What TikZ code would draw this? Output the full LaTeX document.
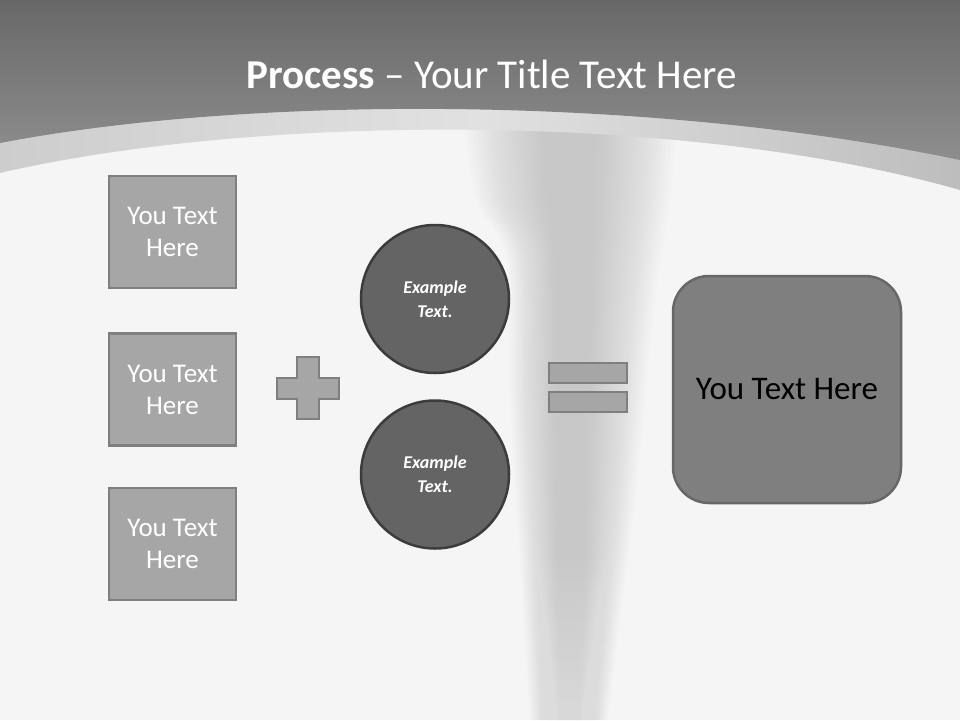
\documentclass[tikz,border=0pt]{standalone}
\usepackage{fontspec}
\setmainfont{Carlito}
\definecolor{bgc}{HTML}{F5F5F5}
\definecolor{darktop}{HTML}{686868}
\definecolor{darkbot}{HTML}{8E8E8E}
\definecolor{bandl}{HTML}{CDCDCD}
\definecolor{bandr}{HTML}{BDBDBD}
\definecolor{boxfill}{HTML}{A6A6A6}
\definecolor{boxline}{HTML}{7F7F7F}
\definecolor{circfill}{HTML}{646464}
\definecolor{circline}{HTML}{3C3C3C}
\definecolor{bigfill}{HTML}{7F7F7F}
\definecolor{bigline}{HTML}{676767}
\definecolor{ghost}{HTML}{B4B4B4}
\tikzset{
  sidebox/.style={draw=boxline, fill=boxfill, line width=2.5pt, minimum width=127pt, minimum height=112pt,
    align=center, text=white, font=\fontsize{27}{32}\selectfont, inner sep=0pt},
  circbox/.style={circle, draw=circline, fill=circfill, line width=2.5pt, minimum size=148pt,
    align=center, text=white, font=\fontsize{18}{24}\selectfont\bfseries\itshape, inner sep=0pt},
  bigbox/.style={draw=bigline, fill=bigfill, line width=2.5pt, rounded corners=36pt, minimum width=228pt,
    minimum height=227pt, align=center, text=black, font=\fontsize{33}{38}\selectfont, inner sep=0pt},
  symb/.style={draw=boxline, fill=boxfill, line width=2.5pt},
  titletext/.style={text=white, font=\fontsize{41}{48}\selectfont, inner sep=0pt, anchor=base},
  ghostlayer/.style={fill=ghost, opacity=0.045},
  fadelayer/.style={fill=bgc, opacity=0.04}
}
\begin{document}
\begin{tikzpicture}[x=1pt,y=-1pt]
\useasboundingbox (0,0) rectangle (960,720);
% background
\fill[bgc] (0,0) rectangle (960,720);
% soft ghost figure (layers for a blurred edge)
\foreach \s in {1.25,1.2,...,0.25} {
  \begin{scope}[shift={(570,0)}, xscale=\s]
    \fill[ghostlayer] plot[smooth] coordinates {(-85,120) (-75,200) (-50,260) (-48,400) (-40,560) (-32,720)}
      -- plot[smooth] coordinates {(30,720) (42,600) (52,500) (68,300) (80,200) (85,120)} -- cycle;
  \end{scope}
}
% fade the ghost towards the bottom
\foreach \i in {0,...,15} {
  \fill[fadelayer] (470,{560+10*\i}) rectangle (690,720);
}
% light band
\shade[left color=bandl, right color=bandr, middle color=bandl!60!white]
  (0,0) -- (960,0) -- (960,190) .. controls (680,110) and (250,115) .. (0,173) -- cycle;
% dark top
\shade[top color=darktop, bottom color=darkbot]
  (0,0) -- (960,0) -- (960,160) .. controls (650,95) and (250,95) .. (0,143) -- cycle;
% title
\node[titletext] (title) at (492,88) {\textbf{Process} – Your Title Text Here};
% left boxes
\node[sidebox] (b1) at (172.5,232) {You Text\\Here};
\node[sidebox] (b2) at (172.5,389.5) {You Text\\Here};
\node[sidebox] (b3) at (172.5,544) {You Text\\Here};
% plus
\draw[symb] (297,357) -- (319,357) -- (319,378) -- (339,378) -- (339,399) -- (319,399) -- (319,419)
  -- (297,419) -- (297,399) -- (277,399) -- (277,378) -- (297,378) -- cycle;
% circles
\node[circbox] (c1) at (435,299) {Example\\Text.};
\node[circbox] (c2) at (435,474.5) {Example\\Text.};
% equals
\draw[symb] (549,363) rectangle (627,383);
\draw[symb] (549,392) rectangle (627,412);
% right box
\node[bigbox] (big) at (787,389.5) {You Text Here};
\end{tikzpicture}
\end{document}
